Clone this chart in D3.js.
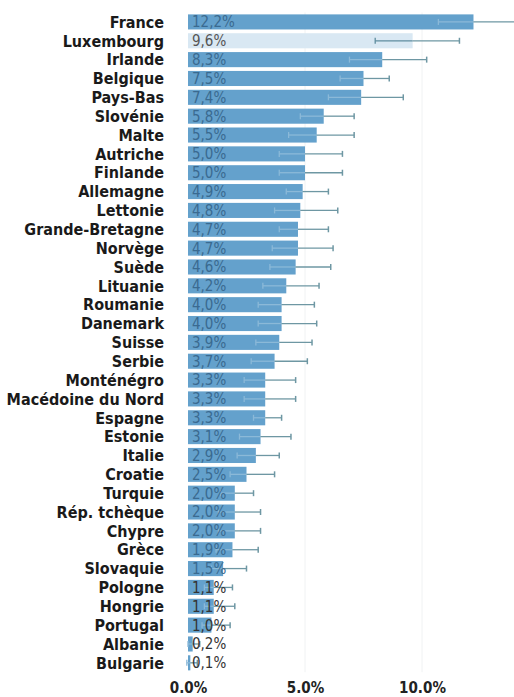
<!DOCTYPE html>
<html><head><meta charset="utf-8">
<script src="https://cdn.jsdelivr.net/npm/d3@7"></script>
<style>
html,body{margin:0;padding:0;background:#fff;}
svg{display:block;}
</style></head>
<body>
<svg id="c" width="514" height="697"></svg>
<script>
const countries = ["France","Luxembourg","Irlande","Belgique","Pays-Bas","Slovénie","Malte","Autriche","Finlande","Allemagne","Lettonie","Grande-Bretagne","Norvège","Suède","Lituanie","Roumanie","Danemark","Suisse","Serbie","Monténégro","Macédoine du Nord","Espagne","Estonie","Italie","Croatie","Turquie","Rép. tchèque","Chypre","Grèce","Slovaquie","Pologne","Hongrie","Portugal","Albanie","Bulgarie"];
const values = [12.2,9.6,8.3,7.5,7.4,5.8,5.5,5.0,5.0,4.9,4.8,4.7,4.7,4.6,4.2,4.0,4.0,3.9,3.7,3.3,3.3,3.3,3.1,2.9,2.5,2.0,2.0,2.0,1.9,1.5,1.1,1.1,1.0,0.2,0.1];
const errLow = [10.7,8.0,6.9,6.5,6.0,4.8,4.3,3.9,3.9,4.2,3.7,3.9,3.6,3.5,3.2,3.0,3.0,2.9,2.7,2.4,2.4,2.8,2.2,2.1,1.8,1.4,1.3,1.3,1.2,1.0,0.7,0.7,0.6,0.0,-0.05];
const errHigh = [14.0,11.6,10.2,8.6,9.2,7.1,7.1,6.6,6.6,6.0,6.4,6.0,6.2,6.1,5.6,5.4,5.5,5.3,5.1,4.6,4.6,4.0,4.4,3.9,3.7,2.8,3.1,3.1,3.0,2.5,1.9,2.0,1.8,0.5,0.4];
const ticks = [0,5,10];

const FONT = "'DejaVu Sans Condensed','DejaVu Sans',sans-serif";
const svg = d3.select("#c");
const x = d3.scaleLinear().domain([0,14]).range([188,188+14*23.4]);
const y = d3.scaleBand().domain(countries).range([12.5,12.5+35*18.85]).paddingInner(0.2).paddingOuter(0.1);

// faint gridlines
svg.append("g").selectAll("line").data(ticks.slice(1)).join("line")
  .attr("x1",d=>x(d)).attr("x2",d=>x(d)).attr("y1",y.range()[0]).attr("y2",y.range()[1])
  .attr("stroke","#f0f2f3").attr("stroke-width",1);

// bars
svg.append("g").selectAll("rect").data(countries).join("rect")
  .attr("x",x(0)).attr("y",d=>y(d)).attr("height",y.bandwidth())
  .attr("width",(d,i)=>x(values[i])-x(0))
  .attr("fill",d=>d==="Luxembourg" ? "#d9e8f3" : "#64a1cc");

// error bars
const eg = svg.append("g");
countries.forEach((c,i)=>{
  const cy = y(c)+y.bandwidth()/2;
  const inside = c==="Luxembourg" ? "#5f8d9f" : "#8bb9d8";
  eg.append("line").attr("x1",x(errLow[i])).attr("x2",x(Math.min(values[i],errHigh[i])))
    .attr("y1",cy).attr("y2",cy).attr("stroke",inside).attr("stroke-width",1.3);
  eg.append("line").attr("x1",x(Math.max(values[i],errLow[i]))).attr("x2",x(errHigh[i]))
    .attr("y1",cy).attr("y2",cy).attr("stroke","#6e97a3").attr("stroke-width",1.3);
  eg.append("line").attr("x1",x(errLow[i])).attr("x2",x(errLow[i]))
    .attr("y1",cy-3).attr("y2",cy+3).attr("stroke",values[i]<errLow[i]?"#6e97a3":inside).attr("stroke-width",1.3);
  eg.append("line").attr("x1",x(errHigh[i])).attr("x2",x(errHigh[i]))
    .attr("y1",cy-3).attr("y2",cy+3).attr("stroke","#6e97a3").attr("stroke-width",1.5);
});

// country labels
svg.append("g").selectAll("text").data(countries).join("text")
  .attr("x",164).attr("y",d=>y(d)+y.bandwidth()/2).attr("dy","0.36em")
  .attr("text-anchor","end")
  .style("font-family",FONT)
  .style("font-weight","bold").style("font-size","16px").attr("fill","#1a1a1a")
  .text(d=>d);

// value labels
svg.append("g").selectAll("text").data(countries).join("text")
  .attr("x",x(0)+4).attr("y",d=>y(d)+y.bandwidth()/2).attr("dy","0.36em")
  .style("font-family",FONT)
  .style("font-size","15px")
  .attr("fill",(d,i)=> d==="Luxembourg" ? "#555" : (values[i]<1.3 ? "#333" : "#3a6a90"))
  .text((d,i)=>d3.format(".1f")(values[i]).replace(".",",")+"%");

// x axis
const ax = svg.append("g").attr("transform","translate(0,682)")
  .call(d3.axisBottom(x).tickValues(ticks).tickFormat(d=>d3.format(".1f")(d)+"%").tickSize(0).tickPadding(0));
ax.select(".domain").remove();
ax.selectAll("text").style("font-family",FONT)
  .style("font-size","15px").style("font-weight","bold").attr("fill","#222");
</script>
</body></html>
